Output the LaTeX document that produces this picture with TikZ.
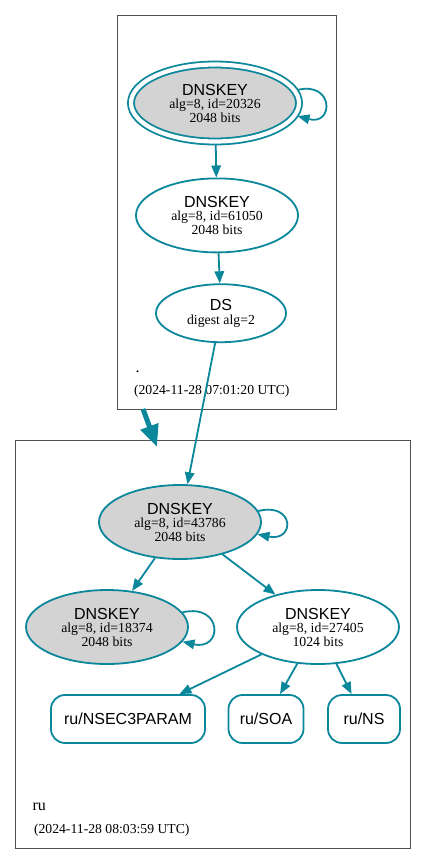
\documentclass[tikz,border=0pt]{standalone}
\usepackage{fontspec}
\setmainfont{Liberation Serif}
\newfontfamily\sansfont{Liberation Sans}
\usetikzlibrary{shapes.geometric,positioning,arrows.meta}
\definecolor{dnsteal}{HTML}{0A879A}
\definecolor{keygray}{HTML}{D3D3D3}
\definecolor{zonegray}{HTML}{505050}
\newcommand{\keylabel}[2]{{\sansfont\fontsize{16}{16}\selectfont DNSKEY}\\alg=8, id=#1\\#2 bits}
\tikzset{
    dnskey/.style={ellipse,draw=dnsteal,line width=1.8pt,inner sep=0pt,minimum width=162pt,minimum height=74pt,align=center,font=\fontsize{13.8}{13.5}\selectfont},
    ksk/.style={dnskey,fill=keygray},
    trust/.style={ksk,double=white,double distance=4.2pt,minimum width=168pt,minimum height=77pt,outer sep=3pt},
    digest/.style={dnskey,minimum width=130pt,minimum height=58pt},
    rrset/.style={rectangle,rounded corners=14pt,draw=dnsteal,line width=1.8pt,minimum height=48pt,font=\sansfont\fontsize{16}{16}\selectfont},
    zone/.style={draw=zonegray,line width=0.8pt},
    zonename/.style={anchor=base west,font=\fontsize{16}{16}\selectfont},
    zonetime/.style={anchor=base west,font=\fontsize{13.7}{14}\selectfont},
    link/.style={draw=dnsteal,line width=1.8pt,->},
}

\begin{document}
\begin{tikzpicture}[x=1pt,y=-1pt,>={Triangle[length=12pt,width=9.5pt]}]
\useasboundingbox (0,0) rectangle (427,865);
% root zone
\draw[zone] (117,15) rectangle (336,409);
\node[trust] (ksk) at (215,103) {\keylabel{20326}{2048}};
\node[dnskey] (zsk) [below=33pt of ksk,xshift=2pt] {\keylabel{61050}{2048}};
\node[digest] (ds) [below=30pt of zsk,xshift=4pt] {{\sansfont\fontsize{16}{16}\selectfont DS}\\digest alg=2};
\node[zonename] (rootname) at (132,372) {.};
\node[zonetime] (roottime) at (130.5,394) {(2024-11-28 07:01:20 UTC)};
\draw[link] (ksk.9) .. controls (334,81) and (334,126) .. (ksk.-9);
\draw[link] (ksk) -- (zsk);
\draw[link] (zsk) -- (ds);

% ru zone
\draw[zone] (15,440) rectangle (410,848);
\node[ksk] (ruksk) at (180,522) {\keylabel{43786}{2048}};
\node[ksk] (ruksk2) at (107,627) {\keylabel{18374}{2048}};
\node[dnskey] (ruzsk) at (318,627) {\keylabel{27405}{1024}};
\node[rrset,minimum width=154pt] (nsec3param) at (128,719) {ru/NSEC3PARAM};
\node[rrset,minimum width=75pt] (soa) at (266,719) {ru/SOA};
\node[rrset,minimum width=72pt] (ns) at (364,719) {ru/NS};
\node[zonename] (runame) at (29,810) {ru};
\node[zonetime] (rutime) at (30.5,833) {(2024-11-28 08:03:59 UTC)};
\draw[link] (ruksk.8) .. controls (295,502) and (295,542) .. (ruksk.-9);
\draw[link] (ruksk2.11) .. controls (223,603) and (223,651) .. (ruksk2.-11);
\draw[link] (ds) -- (ruksk);
\draw[link] (ruksk) -- (ruksk2);
\draw[link] (ruksk) -- (ruzsk);
\draw[link] (ruzsk) -- (nsec3param);
\draw[link] (ruzsk) -- (soa);
\draw[link] (ruzsk) -- (ns);

% delegation
\coordinate (deltail) at (143,409);
\coordinate (delhead) at (157,447);
\draw[draw=dnsteal,line width=5pt,-{Triangle[length=22pt,width=18pt]}] (deltail) -- (delhead);
\end{tikzpicture}
\end{document}
